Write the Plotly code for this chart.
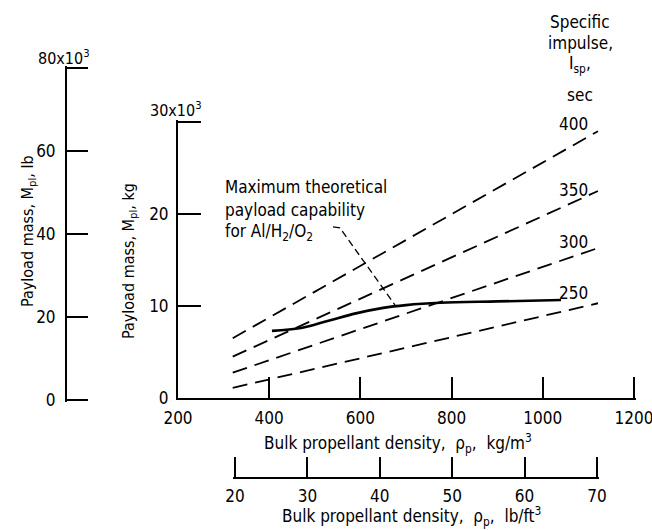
import plotly.graph_objects as go

# ---- data (payload in units of 10^3 kg, density in kg/m^3) ----
isp_values = [250, 300, 350, 400]
density_range = [320, 1121]            # 20 to 70 lb/ft^3
payload_start = [1.1, 2.75, 4.5, 6.5]
payload_end = [10.3, 16.3, 22.5, 29.0]

max_density = [406, 470, 530, 590, 650, 700, 775, 900, 1040]
max_payload = [7.3, 7.6, 8.4, 9.2, 9.8, 10.1, 10.35, 10.5, 10.65]

leader_x = [540, 555, 676]
leader_y = [18.6, 18.5, 10.1]

kg_ticks = [200, 400, 600, 800, 1000, 1200]
kgpl_ticks = [0, 10, 20, 30]
lb_ticks = [0, 20, 40, 60, 80]
lbft3_ticks = [20, 30, 40, 50, 60, 70]

W, H = 652, 530
def px(x): return x / W
def py(y): return (H - y) / H

FONT = "DejaVu Sans Condensed, Liberation Sans Narrow, sans-serif"
fig = go.Figure()

for isp, y0, y1 in zip(isp_values, payload_start, payload_end):
    fig.add_trace(go.Scatter(x=density_range, y=[y0, y1], mode="lines",
                             line=dict(color="black", width=1.8, dash="15px,8px"),
                             showlegend=False, hoverinfo="skip"))

fig.add_trace(go.Scatter(x=max_density, y=max_payload, mode="lines",
                         line=dict(color="black", width=2.6, shape="spline"),
                         showlegend=False))
fig.add_trace(go.Scatter(x=leader_x, y=leader_y, mode="lines",
                         line=dict(color="black", width=1.3, dash="7px,4px"),
                         showlegend=False))

# dummy traces to make extra axes exist
fig.add_trace(go.Scatter(x=[0], y=[0], xaxis="x2", yaxis="y2", mode="markers",
                         marker=dict(opacity=0), showlegend=False))
fig.add_trace(go.Scatter(x=[20], y=[0], xaxis="x3", yaxis="y3", mode="markers",
                         marker=dict(opacity=0), showlegend=False))

axis_common = dict(showgrid=False, zeroline=False, showline=True, linecolor="black",
                   linewidth=2, ticks="inside", tickcolor="black", tickwidth=2,
                   automargin=False, layer="above traces", ticklabeloverflow="allow",
                   tickfont=dict(family=FONT, size=17, color="black"))

fig.update_layout(
    template="none",
    width=W, height=H, margin=dict(l=0, r=0, t=0, b=0),
    paper_bgcolor="white", plot_bgcolor="white",
    font=dict(family=FONT, size=17, color="black"),
    xaxis=dict(domain=[px(178), px(636)], range=[200, 1204.4], tickvals=kg_ticks,
               ticklen=21, anchor="y", ticklabelstandoff=4, **axis_common),
    yaxis=dict(domain=[py(398), py(120)], range=[0, 30.22], tickvals=kgpl_ticks,
               ticktext=["0", "10", "20", ""], ticklen=23, anchor="x",
               ticklabelstandoff=4, **axis_common),
    xaxis2=dict(domain=[px(67), px(120)], range=[0, 1], visible=False, anchor="y2",
                automargin=False),
    yaxis2=dict(domain=[py(402), py(66)], range=[-0.5, 80.5], tickvals=lb_ticks,
                ticktext=["0", "20", "40", "60", ""], ticklen=21, anchor="x2",
                ticklabelstandoff=6, **axis_common),
    xaxis3=dict(domain=[px(233), px(599)], range=[19.72, 70.28], tickvals=lbft3_ticks,
                ticklen=20, anchor="y3", ticklabelstandoff=3, **axis_common),
    yaxis3=dict(domain=[py(477), py(470)], range=[0, 1], visible=False, anchor="x3",
                automargin=False),
)

ann = []
def text(x, y, s, size=17, angle=0, xanchor="center"):
    ann.append(dict(x=px(x), y=py(y), xref="paper", yref="paper", text=s,
                    showarrow=False, textangle=angle, xanchor=xanchor, yanchor="middle",
                    font=dict(family=FONT, size=size, color="black")))

text(398, 443, "Bulk propellant density,  ρ<sub>p</sub>,  kg/m<sup>3</sup>")
text(411, 516, "Bulk propellant density,  ρ<sub>p</sub>,  lb/ft<sup>3</sup>")
text(129, 261, "Payload mass, M<sub>pl</sub>, kg", size=16, angle=-90)
text(28, 231, "Payload mass, M<sub>pl</sub>, lb", size=16, angle=-90)
text(176, 110, "30x10<sup>3</sup>", size=16)
text(64, 58, "80x10<sup>3</sup>", size=16)
text(223, 187, "Maximum theoretical", xanchor="left")
text(223, 210, "payload capability", xanchor="left")
text(223, 232, "for Al/H<sub>2</sub>/O<sub>2</sub>", xanchor="left")
text(580, 22, "Specific")
text(580, 43, "impulse,")
text(580, 65, "I<sub>sp</sub>,")
text(580, 95, "sec")
for lab, yy in zip(isp_values, [293, 242, 190, 124]):
    text(573, yy, str(lab))

fig.update_layout(annotations=ann)
fig.write_html("out.html")
